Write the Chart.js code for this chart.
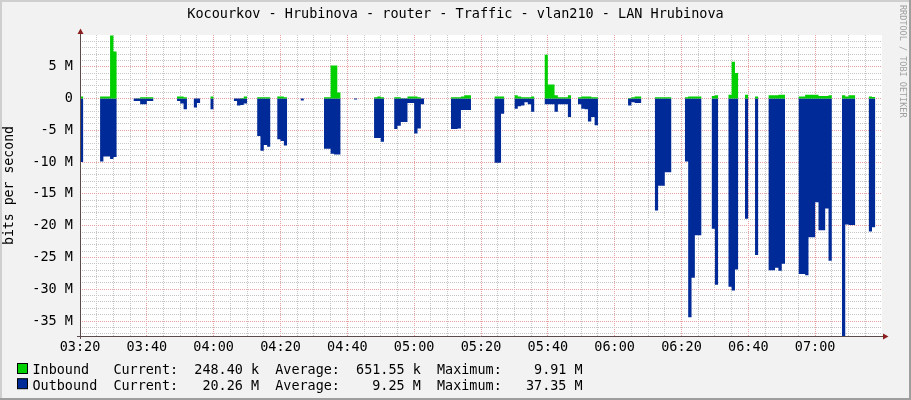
<!DOCTYPE html>
<html>
<head>
<meta charset="utf-8">
<script src="https://cdn.jsdelivr.net/npm/chart.js@4.4.1/dist/chart.umd.min.js"></script>
<style>
html,body{margin:0;padding:0;background:#F2F2F2;}
canvas{display:block;}
</style>
</head>
<body>
<canvas id="c" width="911" height="400"></canvas>
<script>
// ---- data (Mbit/s, one value per minute starting 03:20; null = no data) ----
const chartTitle = 'Kocourkov - Hrubinova - router - Traffic - vlan210 - LAN Hrubinova';
const xTickLabels = ['03:20','03:40','04:00','04:20','04:40','05:00','05:20','05:40','06:00','06:20','06:40','07:00'];
const seriesNames = ['Inbound', 'Outbound'];
const inbound = [
  0.3, null, null, null, null, null, 0.3, 0.3, 0.3, 9.91,
  7.4, null, null, null, null, null, 0.0, 0.05, 0.2, 0.2,
  0.2, 0.2, null, null, null, null, null, null, null, 0.3,
  0.3, 0.2, null, null, 0.0, 0.0, null, null, null, 0.3,
  null, null, null, null, null, null, 0.0, 0.0, 0.1, 0.3,
  null, null, null, 0.2, 0.2, 0.2, 0.2, null, null, 0.3,
  0.3, 0.2, null, null, null, null, 0.0, null, null, null,
  null, null, null, 0.2, 0.2, 5.2, 5.2, 0.95, null, null,
  null, null, 0.0, null, null, null, null, null, 0.2, 0.3,
  0.2, null, null, null, 0.2, 0.2, 0.05, 0.05, 0.3, 0.3,
  0.3, 0.2, 0.0, null, null, null, null, null, null, null,
  null, 0.2, 0.2, 0.2, 0.3, 0.5, 0.5, null, null, null,
  null, null, null, null, 0.3, 0.3, 0.3, null, null, null,
  0.5, 0.3, 0.2, 0.2, 0.2, 0.3, null, null, null, 6.9,
  2.2, 2.2, 0.5, 0.2, 0.2, 0.2, 0.5, null, null, 0.2,
  0.3, 0.3, 0.3, 0.2, 0.2, null, null, null, null, null,
  null, null, null, null, 0.1, 0.2, 0.3, 0.3, null, null,
  null, null, 0.2, 0.2, 0.2, 0.2, 0.2, null, null, null,
  null, 0.2, 0.3, 0.3, 0.3, 0.3, null, null, null, 0.4,
  0.5, null, null, null, 0.6, 5.8, 4.0, null, null, 0.6,
  null, null, 0.3, null, null, null, 0.5, 0.5, 0.5, 0.6,
  0.6, null, null, null, null, 0.3, 0.3, 0.6, 0.6, 0.6,
  0.6, 0.4, 0.4, 0.4, 0.5, null, null, null, 0.5, 0.3,
  0.5, 0.5, null, null, null, null, 0.3, 0.25, null, null
];
const outbound = [
  -10.0, null, null, null, null, null, -9.9, -9.1, -9.1, -9.5,
  -9.2, null, null, null, null, null, -0.4, -0.4, -0.9, -0.9,
  -0.4, -0.4, null, null, null, null, null, null, null, -0.4,
  -0.8, -1.7, null, null, -1.4, -0.7, null, null, null, -1.7,
  null, null, null, null, null, null, -0.4, -1.1, -1.0, -0.8,
  null, null, null, -5.9, -8.2, -7.3, -7.6, null, null, -6.4,
  -6.7, -7.4, null, null, null, null, -0.3, null, null, null,
  null, null, null, -7.9, -7.9, -8.7, -8.8, -8.8, null, null,
  null, null, -0.15, null, null, null, null, null, -6.2, -6.2,
  -6.8, null, null, null, -4.8, -4.3, -3.7, -3.7, -0.7, -0.7,
  -5.5, -4.7, -0.9, null, null, null, null, null, null, null,
  null, -4.8, -4.8, -4.7, -1.8, -1.8, -1.8, null, null, null,
  null, null, null, null, -10.1, -10.1, -2.4, null, null, null,
  -1.6, -1.2, -1.1, -0.6, -0.9, -2.1, null, null, null, -0.9,
  -0.9, -0.9, -2.1, -0.9, -0.9, -0.9, -2.9, null, null, -0.9,
  -1.6, -1.7, -3.6, -2.9, -4.2, null, null, null, null, null,
  null, null, null, null, -1.1, -0.6, -0.7, -0.7, null, null,
  null, null, -17.6, -13.7, -13.7, -11.6, -11.6, null, null, null,
  null, -9.9, -34.4, -28.2, -21.5, -21.5, null, null, null, -20.5,
  -29.3, null, null, null, -29.6, -30.2, -26.9, null, null, -18.9,
  null, null, -24.6, null, null, null, -27.0, -27.0, -26.6, -27.1,
  -26.0, null, null, null, null, -27.6, -27.6, -27.8, -21.8, -21.8,
  -16.3, -20.7, -20.7, -17.3, -25.5, null, null, null, -37.35, -19.8,
  -19.9, -19.9, null, null, null, null, -20.9, -20.26, null, null
];
const legendCurrent = ['248.40 k', '20.26 M'];
const legendAverage = ['651.55 k', '9.25 M'];
const legendMaximum = ['9.91 M', '37.35 M'];
const seriesColors = ['#00CF00', '#002A97'];

// ---- helpers ----
const MONO = '"DejaVu Sans Mono", "Liberation Mono", monospace';
const MINOR_GRID = '#C6C6C6';
const MAJOR_GRID = '#EBA0A0';

// one step per minute: value holds until the next minute; gaps break the area
function buildSteps(vals) {
  const pts = [];
  for (let i = 0; i < vals.length; i++) {
    const v = vals[i];
    if (v === null) continue;
    pts.push({x: i, y: v});
    if (i + 1 >= vals.length || vals[i + 1] === null) {
      pts.push({x: i + 1, y: v});
      pts.push({x: i + 1, y: null});
    }
  }
  return pts;
}

const rrdPlugin = {
  id: 'rrd',
  beforeDraw(chart) {
    const {ctx, width, height, chartArea: a} = chart;
    ctx.save();
    ctx.fillStyle = '#F2F2F2';
    ctx.fillRect(0, 0, width, height);
    ctx.fillStyle = '#CFCFCF';
    ctx.fillRect(0, 0, width, 2);
    ctx.fillRect(0, 0, 2, height);
    ctx.fillStyle = '#9E9E9E';
    ctx.fillRect(0, height - 2, width, 2);
    ctx.fillRect(width - 2, 0, 2, height);
    ctx.fillStyle = '#FFFFFF';
    ctx.fillRect(a.left, a.top, a.right - a.left, a.bottom - a.top);
    ctx.restore();
  },
  afterDatasetsDraw(chart) {
    const {ctx, chartArea: a} = chart;
    const x0 = Math.round(a.left) + 0.5;
    const y0 = Math.round(a.bottom) + 0.5;
    ctx.save();
    ctx.strokeStyle = '#5A4A4A';
    ctx.lineWidth = 1;
    ctx.beginPath();
    ctx.moveTo(a.left - 3, y0);
    ctx.lineTo(a.right + 2, y0);
    ctx.moveTo(x0, a.bottom + 3);
    ctx.lineTo(x0, a.top - 2);
    ctx.stroke();
    ctx.fillStyle = '#8B1F1F';
    ctx.beginPath();
    ctx.moveTo(a.right + 1, y0 - 3);
    ctx.lineTo(a.right + 6.5, y0);
    ctx.lineTo(a.right + 1, y0 + 3);
    ctx.closePath();
    ctx.fill();
    ctx.beginPath();
    ctx.moveTo(x0 - 3, a.top - 1);
    ctx.lineTo(x0, a.top - 6.5);
    ctx.lineTo(x0 + 3, a.top - 1);
    ctx.closePath();
    ctx.fill();
    ctx.restore();
  },
  afterDraw(chart) {
    const {ctx, width, chartArea: a} = chart;
    ctx.save();
    // legend
    ctx.font = '13.45px ' + MONO;
    ctx.textBaseline = 'alphabetic';
    ctx.textAlign = 'left';
    for (let r = 0; r < seriesNames.length; r++) {
      const top = a.bottom + 27.5 + r * 15.2;
      ctx.fillStyle = seriesColors[r];
      ctx.fillRect(17.5, top, 10, 10);
      ctx.strokeStyle = '#000';
      ctx.lineWidth = 1;
      ctx.strokeRect(17.5, top, 10, 10);
      const line = seriesNames[r].padEnd(10) +
        'Current:' + legendCurrent[r].padStart(10) + '  ' +
        'Average:' + legendAverage[r].padStart(10) + '  ' +
        'Maximum:' + legendMaximum[r].padStart(10);
      ctx.fillStyle = '#000';
      ctx.fillText(line, 32.5, a.bottom + 38 + r * 15.5);
    }
    // watermark
    ctx.translate(width - 8.5, 5);
    ctx.rotate(Math.PI / 2);
    ctx.font = '8.5px ' + MONO;
    ctx.fillStyle = '#A0A0A0';
    ctx.textBaseline = 'middle';
    ctx.fillText('RRDTOOL / TOBI OETIKER', 0, 0);
    ctx.restore();
  }
};

new Chart(document.getElementById('c'), {
  type: 'line',
  data: {
    datasets: [
      {
        label: seriesNames[0],
        data: buildSteps(inbound),
        backgroundColor: seriesColors[0],
        borderWidth: 0,
        pointRadius: 0,
        pointHitRadius: 0,
        stepped: true,
        fill: 'origin',
        spanGaps: false
      },
      {
        label: seriesNames[1],
        data: buildSteps(outbound),
        backgroundColor: seriesColors[1],
        borderWidth: 0,
        pointRadius: 0,
        pointHitRadius: 0,
        stepped: true,
        fill: 'origin',
        spanGaps: false
      }
    ]
  },
  options: {
    responsive: false,
    animation: false,
    events: [],
    layout: {padding: 0},
    plugins: {
      legend: {display: false},
      tooltip: {enabled: false},
      title: {
        display: true,
        text: chartTitle,
        color: '#000',
        font: {family: MONO, size: 13.5, weight: 'normal'},
        padding: {top: 6.2, bottom: 12.6}
      }
    },
    scales: {
      x: {
        type: 'linear',
        min: 0,
        max: 240,
        afterFit(s) { s.height = 64; },
        border: {display: false, dash: [1, 1]},
        grid: {
          drawTicks: false,
          color(c) {
            if (!c.tick) return 'rgba(0,0,0,0)';
            const v = c.tick.value;
            if (v <= 0 || v >= 240) return 'rgba(0,0,0,0)';
            return v % 20 === 0 ? MAJOR_GRID : MINOR_GRID;
          }
        },
        ticks: {
          stepSize: 5,
          autoSkip: false,
          maxRotation: 0,
          minRotation: 0,
          includeBounds: false,
          padding: 3,
          color: '#000',
          font: {family: MONO, size: 13.5},
          callback(v) {
            if (v % 20 !== 0) return '';
            return xTickLabels[v / 20] || '';
          }
        }
      },
      y: {
        type: 'linear',
        min: -37.35,
        max: 9.99,
        afterFit(s) { s.width = 80; },
        border: {display: false, dash: [1, 1]},
        grid: {
          drawTicks: false,
          color(c) {
            if (!c.tick) return 'rgba(0,0,0,0)';
            const v = Math.round(c.tick.value);
            if (Math.abs(c.tick.value - v) > 1e-6) return 'rgba(0,0,0,0)';
            return v % 5 === 0 ? MAJOR_GRID : MINOR_GRID;
          }
        },
        ticks: {
          stepSize: 1,
          includeBounds: false,
          autoSkip: false,
          padding: 7,
          color: '#000',
          font: {family: MONO, size: 13.5},
          callback(v) {
            const r = Math.round(v);
            if (Math.abs(v - r) > 1e-6 || r % 5 !== 0) return '';
            return r === 0 ? '0' : r + ' M';
          }
        },
        title: {
          display: true,
          text: 'bits per second',
          color: '#000',
          font: {family: MONO, size: 13.2},
          padding: {top: 2, bottom: 0}
        }
      },
      yR: {
        type: 'linear',
        position: 'right',
        display: true,
        afterFit(s) { s.width = 29; },
        grid: {display: false},
        border: {display: false},
        ticks: {display: false}
      }
    }
  },
  plugins: [rrdPlugin]
});
</script>
</body>
</html>
